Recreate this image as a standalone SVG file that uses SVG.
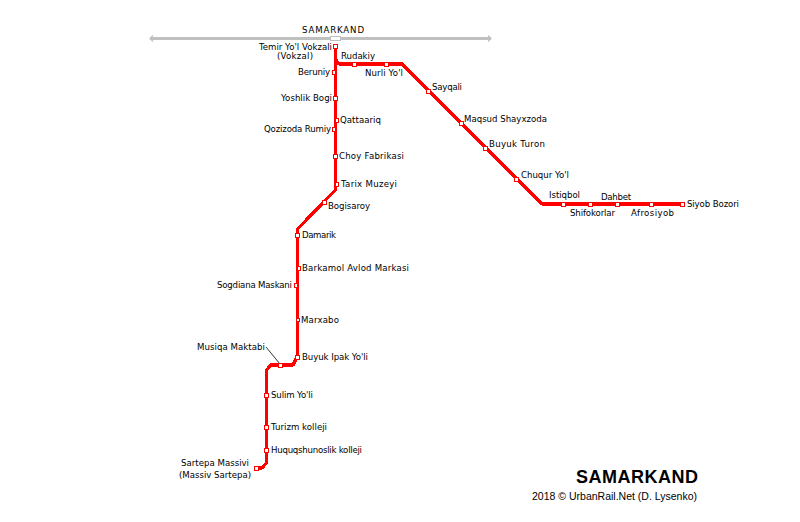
<svg xmlns="http://www.w3.org/2000/svg" width="800" height="522" viewBox="0 0 800 522">
<style>
text{font-family:"DejaVu Sans","Liberation Sans",sans-serif;font-size:8.6px;fill:#000}
.e{text-anchor:end}
.m{text-anchor:middle}
.st{fill:#fff;stroke:#f00;stroke-width:1;shape-rendering:crispEdges}
.line{fill:none;stroke:#f00;stroke-width:3.2;stroke-linejoin:round;shape-rendering:crispEdges}
</style>
<rect width="800" height="522" fill="#fff"/>
<g id="connectors">
<path d="M150 38.500H491" fill="none" stroke="#c0c0c0" stroke-width="3" shape-rendering="crispEdges"/>
<path d="M153 35.500L150 38.500L153 41.500M488 35.500L491 38.500L488 41.500" fill="none" stroke="#c0c0c0" stroke-width="1.200"/>
<path class="line" d="M335.500 46V190L297.500 229V356L293 365H271L266.500 370V463L262 468H256"/>
<path class="line" d="M335.500 59L339 64H402L542 204H682"/>
<path d="M266 347L280 364" fill="none" stroke="#000" stroke-width="0.800"/>
</g>
<g id="station-samarkand"><rect x="330.500" y="36.500" width="10" height="4" fill="#fff" stroke="#c0c0c0" shape-rendering="crispEdges"/><text class="m" x="333" y="33" textLength="62">SAMARKAND</text></g>
<g id="station-temir"><rect class="st" x="333.500" y="44.500" width="4" height="4"/><text class="e" x="332" y="50" textLength="73">Temir Yo'l Vokzali</text><text class="e" x="313" y="59" textLength="36">(Vokzal)</text></g>
<g id="station-rudakiy"><rect class="st" x="352.500" y="62.500" width="4" height="4"/><text x="341" y="59" textLength="34">Rudakiy</text></g>
<g id="station-nurli"><rect class="st" x="384.500" y="62.500" width="4" height="4"/><text x="365" y="76" textLength="38">Nurli Yo'l</text></g>
<g id="station-beruniy"><rect class="st" x="332.500" y="70.500" width="3" height="4"/><text class="e" x="330" y="75" textLength="32">Beruniy</text></g>
<g id="station-yoshlik"><rect class="st" x="333.500" y="96.500" width="4" height="4"/><text class="e" x="332" y="101" textLength="51">Yoshlik Bogi</text></g>
<g id="station-qattaariq"><rect class="st" x="335.500" y="118.500" width="3" height="4"/><text x="340" y="123" textLength="41">Qattaariq</text></g>
<g id="station-qozizoda"><rect class="st" x="332.500" y="127.500" width="3" height="4"/><text class="e" x="331" y="132" textLength="67">Qozizoda Rumiy</text></g>
<g id="station-choy"><rect class="st" x="333.500" y="154.500" width="4" height="4"/><text x="339" y="159" textLength="65">Choy Fabrikasi</text></g>
<g id="station-tarix"><rect class="st" x="335.500" y="182.500" width="3" height="4"/><text x="341" y="187" textLength="56">Tarix Muzeyi</text></g>
<g id="station-bogisaroy"><rect class="st" x="322.500" y="200.500" width="4" height="4"/><text x="328" y="209" textLength="42">Bogisaroy</text></g>
<g id="station-damarik"><rect class="st" x="295.500" y="233.500" width="4" height="4"/><text x="302" y="238" textLength="34">Damarik</text></g>
<g id="station-barkamol"><rect class="st" x="297.500" y="266.500" width="3" height="4"/><text x="302" y="271" textLength="107">Barkamol Avlod Markasi</text></g>
<g id="station-sogdiana"><rect class="st" x="294.500" y="283.500" width="3" height="4"/><text class="e" x="292" y="288" textLength="75">Sogdiana Maskani</text></g>
<g id="station-marxabo"><rect class="st" x="296.500" y="318.500" width="3" height="3"/><text x="301" y="323" textLength="38">Marxabo</text></g>
<g id="station-buyuk-ipak"><rect class="st" x="295.500" y="355.500" width="4" height="4"/><text x="302" y="360" textLength="66">Buyuk Ipak Yo'li</text></g>
<g id="station-musiqa"><rect class="st" x="278.500" y="363.500" width="4" height="4"/><text class="e" x="265" y="350" textLength="68">Musiqa Maktabi</text></g>
<g id="station-sulim"><rect class="st" x="264.500" y="393.500" width="4" height="4"/><text x="271" y="398" textLength="42">Sulim Yo'li</text></g>
<g id="station-turizm"><rect class="st" x="264.500" y="425.500" width="4" height="4"/><text x="271" y="430" textLength="56">Turizm kolleji</text></g>
<g id="station-huquq"><rect class="st" x="264.500" y="448.500" width="4" height="4"/><text x="271" y="453" textLength="91">Huquqshunoslik kolleji</text></g>
<g id="station-sartepa"><rect class="st" x="254.500" y="466.500" width="4" height="4"/><text class="e" x="249" y="466" textLength="68">Sartepa Massivi</text><text class="e" x="251" y="478" textLength="72">(Massiv Sartepa)</text></g>
<g id="station-sayqali"><rect class="st" x="426.500" y="89.500" width="4" height="4"/><text x="432" y="90" textLength="30">Sayqali</text></g>
<g id="station-maqsud"><rect class="st" x="459.500" y="121.500" width="4" height="4"/><text x="464" y="122" textLength="83">Maqsud Shayxzoda</text></g>
<g id="station-buyuk-turon"><rect class="st" x="483.500" y="146.500" width="4" height="4"/><text x="489" y="147" textLength="56">Buyuk Turon</text></g>
<g id="station-chuqur"><rect class="st" x="514.500" y="177.500" width="4" height="4"/><text x="521" y="178" textLength="48">Chuqur Yo'l</text></g>
<g id="station-istiqbol"><rect class="st" x="561.500" y="202.500" width="4" height="4"/><text x="549" y="198" textLength="31">Istiqbol</text></g>
<g id="station-shifokorlar"><rect class="st" x="588.500" y="202.500" width="4" height="4"/><text x="570" y="216" textLength="45">Shifokorlar</text></g>
<g id="station-dahbet"><rect class="st" x="615.500" y="202.500" width="4" height="4"/><text x="601" y="200" textLength="30">Dahbet</text></g>
<g id="station-afrosiyob"><rect class="st" x="649.500" y="202.500" width="4" height="4"/><text x="631" y="216" textLength="43">Afrosiyob</text></g>
<g id="station-siyob"><rect class="st" x="680.500" y="202.500" width="4" height="4"/><text x="687" y="207" textLength="52">Siyob Bozori</text></g>
<g id="title"><text x="576" y="483" textLength="122" style="font-family:'Liberation Sans',sans-serif;font-size:18px;font-weight:bold">SAMARKAND</text><text x="532" y="500" textLength="165" style="font-family:'Liberation Sans',sans-serif;font-size:10.500px">2018 © UrbanRail.Net (D. Lysenko)</text></g>
</svg>
